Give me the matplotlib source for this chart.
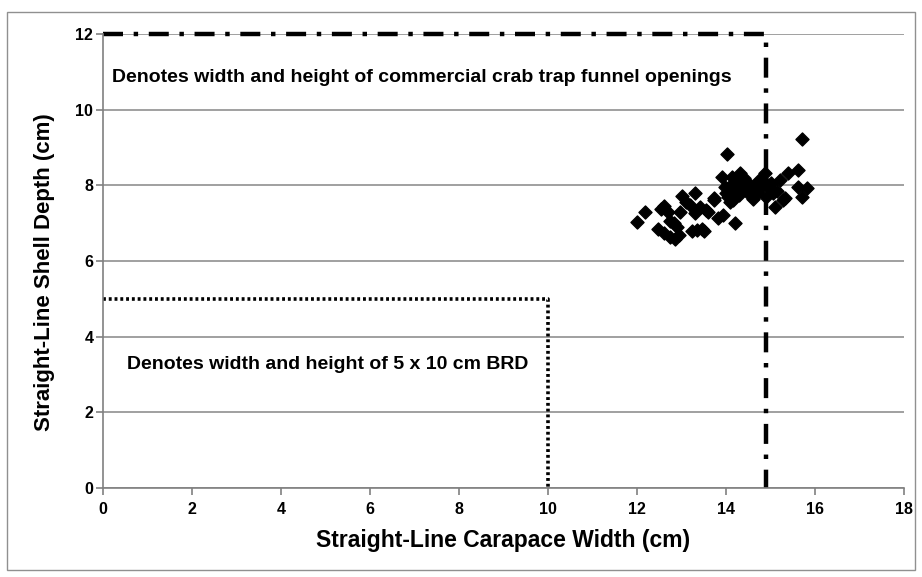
import matplotlib
matplotlib.use('Agg')
import matplotlib.pyplot as plt
from matplotlib.patches import Rectangle

plt.rcParams['font.family'] = ['Liberation Sans', 'DejaVu Sans']

# carapace width (cm) and shell depth (cm)
width = [11.99, 12.19, 12.61, 12.55, 12.70, 12.48, 12.61, 12.74, 12.85, 12.82,
         12.90, 13.00, 12.97, 13.19, 13.30, 13.30, 13.42, 13.23, 13.34, 13.45,
         13.60, 13.72, 13.83, 13.94, 13.98, 14.02, 13.90, 14.13, 14.31, 14.39,
         14.20, 14.05, 14.16, 13.72, 13.56, 14.54, 14.60, 14.88, 14.85, 15.02,
         15.21, 15.00, 15.33, 15.10, 15.40, 15.62, 15.62, 15.81, 15.70, 15.70,
         14.20, 15.29, 14.25, 14.35, 14.45, 14.50, 14.65, 14.70, 14.80, 14.95,
         14.10, 14.30, 14.40, 14.75, 15.05, 14.15, 14.55, 13.10, 12.75, 12.95,
         13.50, 14.00, 14.90, 15.15, 14.60]
depth = [7.02, 7.30, 7.45, 7.38, 7.30, 6.84, 6.73, 6.64, 6.57, 7.00,
         6.90, 7.72, 7.30, 7.48, 7.81, 7.26, 7.44, 6.78, 6.82, 6.84,
         7.30, 7.66, 7.13, 7.22, 7.96, 8.83, 8.21, 8.23, 8.32, 8.14,
         7.90, 7.70, 7.61, 7.61, 7.35, 7.75, 7.65, 8.33, 8.10, 8.05,
         8.14, 7.90, 7.66, 7.44, 8.33, 8.41, 7.96, 7.92, 7.70, 9.22,
         7.00, 7.61, 8.00, 7.95, 8.10, 7.85, 8.00, 7.80, 7.95, 8.00,
         7.55, 7.75, 8.20, 8.15, 7.80, 8.05, 8.00, 7.55, 7.05, 6.70,
         6.80, 7.80, 7.70, 7.85, 7.95]

xticks = [0, 2, 4, 6, 8, 10, 12, 14, 16, 18]
yticks = [0, 2, 4, 6, 8, 10, 12]

# trap funnel opening and BRD outlines
trap_w, trap_h = 14.9, 12
brd_w, brd_h = 10, 5

fig = plt.figure(figsize=(9.22, 5.77), dpi=100)
ax = fig.add_axes([0.1117, 0.1542, 0.8688, 0.7869])

ax.set_xlim(0, 18)
ax.set_ylim(0, 12)
ax.set_xticks(xticks)
ax.set_yticks(yticks)
ax.yaxis.grid(True, color='#909090', lw=1.2)
ax.set_axisbelow(True)
for s in ['top', 'right']:
    ax.spines[s].set_visible(False)
for s in ['left', 'bottom']:
    ax.spines[s].set_color('#808080')
    ax.spines[s].set_linewidth(1.2)
ax.tick_params(colors='#808080', length=5, width=1.2, labelsize=11.5)
ax.tick_params(axis='y', pad=2)
ax.tick_params(axis='x', pad=5)
for lab in ax.get_xticklabels() + ax.get_yticklabels():
    lab.set_color('black')
    lab.set_fontweight('bold')

ax.scatter(width, depth, marker='D', s=44, color='black', zorder=3)

ax.plot([0, trap_w, trap_w], [trap_h, trap_h, 0], color='black', lw=3.2,
        dashes=[4.5, 2.4, 1, 2.4], clip_on=False, zorder=2)
ax.plot([0, brd_w, brd_w], [brd_h, brd_h, 0], color='black', lw=2.6,
        linestyle=(0, (0.8, 0.8)), zorder=2)

ax.text(0.2, 10.85, 'Denotes width and height of commercial crab trap funnel openings',
        fontsize=14, fontweight='bold', va='center')
ax.text(0.55, 3.27, 'Denotes width and height of 5 x 10 cm BRD',
        fontsize=14, fontweight='bold', va='center')

ax.set_xlabel('Straight-Line Carapace Width (cm)', fontsize=16.5, fontweight='bold', labelpad=9)
ax.set_ylabel('Straight-Line Shell Depth (cm)', fontsize=16, fontweight='bold')
ax.yaxis.set_label_coords(-0.06, 0.476)

fig.patches.append(Rectangle((0.008, 0.012), 0.984, 0.968, transform=fig.transFigure,
                             fill=False, edgecolor='#909090', lw=1))

fig.savefig('out.png', dpi=100)
